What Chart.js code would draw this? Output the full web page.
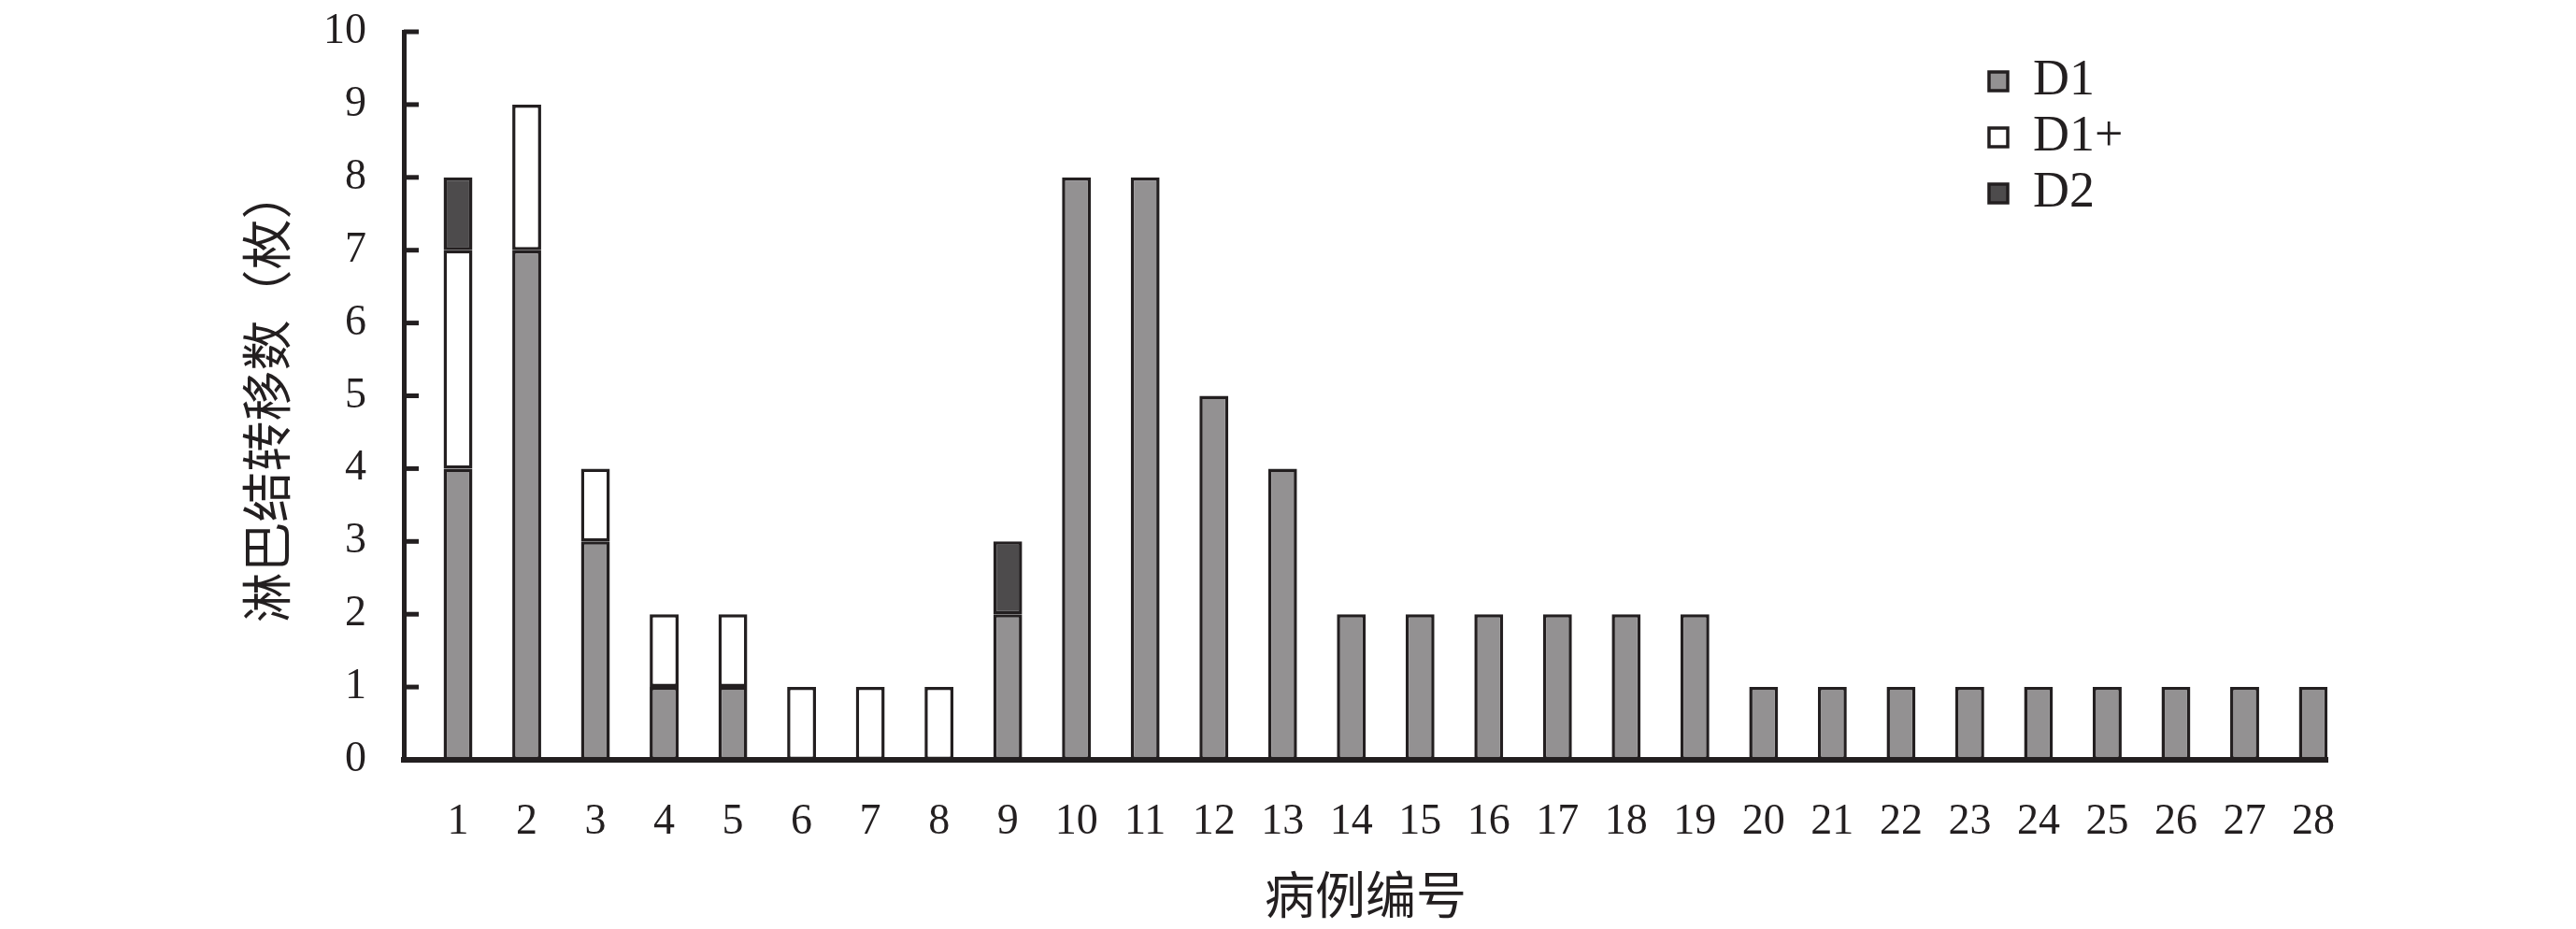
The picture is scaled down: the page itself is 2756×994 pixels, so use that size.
<!DOCTYPE html>
<html>
<head>
<meta charset="utf-8">
<script src="https://cdn.jsdelivr.net/npm/chart.js@4.4.0/dist/chart.umd.min.js"></script>
<style>
  html, body { margin: 0; padding: 0; background: #fff; }
  canvas { display: block; }
</style>
</head>
<body>
<canvas id="chart" width="2756" height="994"></canvas>
<script>
// case numbers on the x axis
const cases = [1, 2, 3, 4, 5, 6, 7, 8, 9, 10, 11, 12, 13, 14, 15, 16, 17, 18, 19, 20, 21, 22, 23, 24, 25, 26, 27, 28];

// lymph node counts per case, stacked D1 / D1+ / D2
const d1 = [4, 7, 3, 1, 1, null, null, null, 2, 8, 8, 5, 4, 2, 2, 2, 2, 2, 2, 1, 1, 1, 1, 1, 1, 1, 1, 1];
const d1plus = [3, 2, 1, 1, 1, 1, 1, 1, null, null, null, null, null, null, null, null, null, null, null, null, null, null, null, null, null, null, null, null];
const d2 = [1, null, null, null, null, null, null, null, 1, null, null, null, null, null, null, null, null, null, null, null, null, null, null, null, null, null, null, null];

const yTicks = [0, 1, 2, 3, 4, 5, 6, 7, 8, 9, 10];

const ink = "#231f20";
const latin = "'Liberation Serif', 'DejaVu Serif', serif";
const cjk = "'Noto Sans CJK SC', sans-serif";

// small tick marks pointing into the plot, as in the original figure
const innerTicks = {
    id: "innerTicks",
    afterDraw(chart) {
        const ctx = chart.ctx;
        const y = chart.scales.y;
        const left = chart.chartArea.left;
        ctx.save();
        ctx.strokeStyle = ink;
        ctx.lineWidth = 5;
        y.ticks.forEach(function (t) {
            const py = y.getPixelForValue(t.value);
            ctx.beginPath();
            ctx.moveTo(left, py);
            ctx.lineTo(left + 16, py);
            ctx.stroke();
        });
        ctx.restore();
    }
};

// put the legend in the upper right of the plot
const legendSpot = {
    id: "legendSpot",
    afterLayout(chart) {
        const lg = chart.legend;
        const area = chart.chartArea;
        lg.left = area.left + 1690;
        lg.top = 54;
        lg.right = lg.left + lg.width;
        lg.bottom = lg.top + lg.height;
    }
};

const ctx = document.getElementById("chart").getContext("2d");
new Chart(ctx, {
    type: "bar",
    data: {
        labels: cases,
        datasets: [
            { label: "D1", data: d1, backgroundColor: "#939192" },
            { label: "D1+", data: d1plus, backgroundColor: "#ffffff" },
            { label: "D2", data: d2, backgroundColor: "#4d4b4c" }
        ]
    },
    options: {
        responsive: false,
        animation: false,
        devicePixelRatio: 1,
        layout: { padding: { left: 0, top: 34, right: 266, bottom: 0 } },
        datasets: {
            bar: {
                borderColor: ink,
                borderWidth: 3.5,
                borderSkipped: false,
                barPercentage: 0.42,
                categoryPercentage: 1
            }
        },
        plugins: {
            legend: {
                position: "chartArea",
                align: "start",
                labels: {
                    color: ink,
                    font: { family: latin, size: 54 },
                    boxWidth: 20,
                    boxHeight: 20,
                    padding: 6
                }
            },
            tooltip: { enabled: false }
        },
        scales: {
            x: {
                type: "linear",
                stacked: true,
                min: 0.211,
                max: 28.204,
                offset: false,
                afterBuildTicks(scale) {
                    scale.ticks = cases.map(v => ({ value: v }));
                },
                afterFit(scale) { scale.height = 181; },
                grid: { display: false, drawTicks: false },
                border: { display: true, color: ink, width: 6 },
                ticks: {
                    color: ink,
                    font: { family: latin, size: 46 },
                    padding: 39,
                    maxRotation: 0,
                    autoSkip: false,
                    callback: v => String(v)
                },
                title: {
                    display: true,
                    text: "病例编号",
                    color: ink,
                    font: { family: cjk, size: 54 },
                    padding: { top: 0, bottom: 4 }
                }
            },
            y: {
                stacked: true,
                min: 0,
                max: 10,
                afterBuildTicks(scale) {
                    scale.ticks = yTicks.map(v => ({ value: v }));
                },
                afterFit(scale) {
                    scale.width = 432;
                    scale.paddingTop = 0;
                    scale.paddingBottom = 0;
                },
                grid: { display: false, drawTicks: false },
                border: { display: true, color: ink, width: 5 },
                ticks: {
                    color: ink,
                    font: { family: latin, size: 46 },
                    padding: 40
                },
                title: {
                    display: true,
                    text: "淋巴结转移数（枚）",
                    color: ink,
                    font: { family: cjk, size: 54 },
                    padding: { top: 253, bottom: 0 }
                }
            }
        }
    },
    plugins: [innerTicks, legendSpot]
});
</script>
</body>
</html>
